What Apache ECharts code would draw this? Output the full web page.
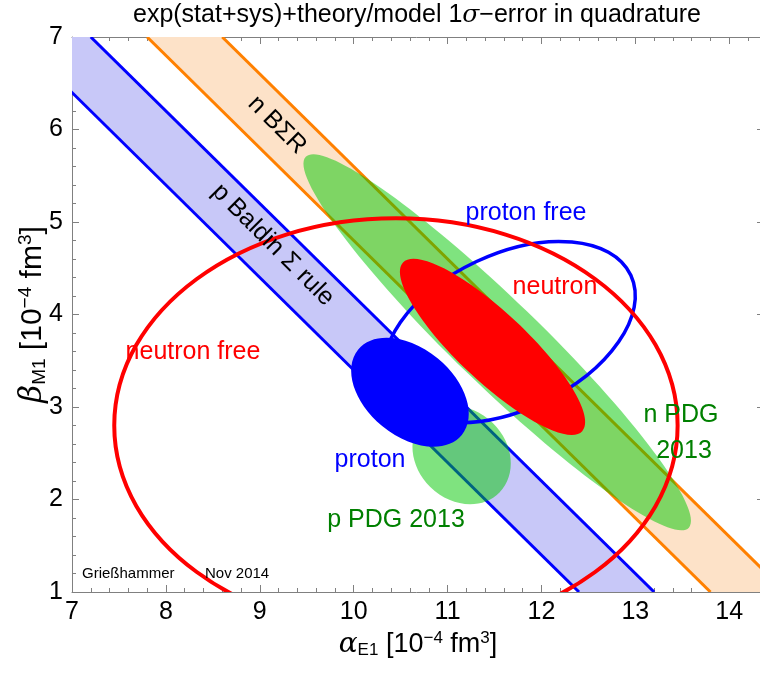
<!DOCTYPE html>
<html><head><meta charset="utf-8">
<script src="https://cdn.jsdelivr.net/npm/echarts@6/dist/echarts.min.js"></script>
<style>html,body{margin:0;padding:0;background:#fff}#c{width:760px;height:677px}</style>
</head><body><div id="c"></div><script>
// ---- data ----
const xRange = [7, 14.37];
const yRange = [1, 7];
// Baldin sum-rule bands: alpha + beta = centre +- err
const bandNames  = ['p Baldin Σ rule', 'n BΣR'];
const bandCentre = [13.8, 15.2];
const bandErr    = [0.4, 0.4];
// 1-sigma ellipses: centre (alpha, beta), semi-major, semi-minor, angle of major axis (deg)
const ellNames = ['n PDG 2013', 'p PDG 2013', 'proton free', 'neutron', 'proton', 'neutron free'];
const ellAlpha = [11.53, 11.15, 11.66, 11.48, 10.60, 10.45];
const ellBeta  = [3.70, 2.48, 3.81, 3.65, 3.16, 2.80];
const ellMajor = [2.86, 0.57, 1.43, 1.32, 0.72, 3.00];
const ellMinor = [0.46, 0.48, 0.84, 0.37, 0.47, 2.24];
const ellAngle = [-44.5, -45, 25.4, -43.7, -40, 0];

// ---- styles ----
const BLUE = '#0000ff', RED = '#ff0000', ORANGE = '#ff8000', DKGREEN = '#008000';
const FONT = 'Liberation Sans, Arial, sans-serif';
const ellStyle = {
  'n PDG 2013':   {fill: 'rgba(0,200,0,0.5)', stroke: null, lw: 0},
  'p PDG 2013':   {fill: 'rgba(0,200,0,0.5)', stroke: null, lw: 0},
  'proton free':  {fill: null, stroke: BLUE, lw: 3.5},
  'neutron':      {fill: RED, stroke: null, lw: 0},
  'proton':       {fill: BLUE, stroke: null, lw: 0},
  'neutron free': {fill: null, stroke: RED, lw: 4}
};
const bandStyle = {
  'p Baldin Σ rule': {fill: '#c8c8f8', stroke: BLUE},
  'n BΣR':           {fill: '#fde2c8', stroke: ORANGE}
};

function bandSeries(i) {
  const nm = bandNames[i], st = bandStyle[nm];
  return {
    type: 'custom', name: nm, clip: true, z: 1,
    data: [[bandCentre[i] - bandErr[i], bandCentre[i] + bandErr[i]]],
    renderItem: function (params, api) {
      const lo = api.value(0), hi = api.value(1);
      const p1 = api.coord([lo - yRange[1], yRange[1]]);
      const p2 = api.coord([hi - yRange[1], yRange[1]]);
      const p3 = api.coord([hi - yRange[0], yRange[0]]);
      const p4 = api.coord([lo - yRange[0], yRange[0]]);
      return {type: 'group', children: [
        {type: 'polygon', shape: {points: [p1, p2, p3, p4]}, style: {fill: st.fill}},
        {type: 'line', shape: {x1: p1[0], y1: p1[1], x2: p4[0], y2: p4[1]}, style: {stroke: st.stroke, lineWidth: 3}},
        {type: 'line', shape: {x1: p2[0], y1: p2[1], x2: p3[0], y2: p3[1]}, style: {stroke: st.stroke, lineWidth: 3}}
      ]};
    }
  };
}

function ellSeries(i, z) {
  const nm = ellNames[i], st = ellStyle[nm];
  return {
    type: 'custom', name: nm, clip: true, z: z,
    data: [[ellAlpha[i], ellBeta[i], ellMajor[i], ellMinor[i], ellAngle[i]]],
    renderItem: function (params, api) {
      const c = api.coord([api.value(0), api.value(1)]);
      const s = api.size([1, 1]);
      const th = api.value(4) * Math.PI / 180;
      const ct = Math.cos(th), sn = Math.sin(th);
      const kx = Math.sqrt((s[0] * ct) ** 2 + (s[1] * sn) ** 2);
      const ky = Math.sqrt((s[0] * sn) ** 2 + (s[1] * ct) ** 2);
      const rot = Math.atan2(s[1] * sn, s[0] * ct);
      return {
        type: 'ellipse', x: c[0], y: c[1], rotation: rot,
        shape: {cx: 0, cy: 0, rx: api.value(2) * kx, ry: api.value(3) * ky},
        style: {fill: st.fill || 'none', stroke: st.stroke || 'none', lineWidth: st.lw}
      };
    }
  };
}

const chart = echarts.init(document.getElementById('c'), null, {renderer: 'canvas'});

const axisCommon = {
  type: 'value', interval: 1,
  axisLine: {show: true, onZero: false, lineStyle: {color: '#808080', width: 1}},
  axisTick: {show: true, inside: true, length: 7, lineStyle: {color: '#808080'}},
  minorTick: {show: true, splitNumber: 5, length: 4, lineStyle: {color: '#808080'}},
  splitLine: {show: false}, minorSplitLine: {show: false}
};
function makeRich(f) {
  return {
    g: {fontSize: Math.round(f * 1.04), fontStyle: 'italic', fontFamily: 'DejaVu Serif', color: '#000'},
    n: {fontSize: f, fontFamily: FONT, color: '#000'},
    s: {fontSize: Math.round(f * 0.62), fontFamily: FONT, color: '#000', padding: [Math.round(f * 0.46), 0, 0, 0]},
    p: {fontSize: Math.round(f * 0.62), fontFamily: FONT, color: '#000', padding: [0, 0, Math.round(f * 0.46), 0]}
  };
}
const lbl = (text, x, y, color, extra) => Object.assign({type: 'text', x: x, y: y, z: 100,
  style: {text: text, fontSize: 25, fontFamily: FONT, fill: color, align: 'center', verticalAlign: 'middle'}}, extra || {});

const option = {
  animation: false,
  grid: {left: 72, top: 37, right: -4, bottom: 85, containLabel: false, outerBoundsMode: 'none'},
  xAxis: [
    Object.assign({}, axisCommon, {
      position: 'bottom', min: xRange[0], max: xRange[1],
      axisLabel: {fontSize: 25, color: '#000', fontFamily: FONT, margin: 8, showMaxLabel: false},
      name: '{g|α}{s|E1}{n| [10}{p|−4}{n| fm}{p|3}{n|]}', nameLocation: 'middle', nameGap: 32,
      nameTextStyle: {rich: makeRich(27)}
    }),
    Object.assign({}, axisCommon, {
      position: 'top', min: xRange[0], max: xRange[1], axisLabel: {show: false}
    })
  ],
  yAxis: [
    Object.assign({}, axisCommon, {
      position: 'left', min: yRange[0], max: yRange[1],
      axisLabel: {fontSize: 25, color: '#000', fontFamily: FONT, margin: 9},
      name: '{g|β}{s|M1}{n| [10}{p|−4}{n| fm}{p|3}{n|]}', nameLocation: 'middle', nameGap: 23,
      nameMoveOverlap: false,
      nameTextStyle: {rich: makeRich(30)}
    }),
    Object.assign({}, axisCommon, {
      position: 'right', min: yRange[0], max: yRange[1], axisLabel: {show: false}
    })
  ],
  series: [
    bandSeries(0), bandSeries(1),
    ellSeries(0, 3), ellSeries(1, 3), ellSeries(2, 4), ellSeries(3, 5), ellSeries(4, 6), ellSeries(5, 7)
  ],
  graphic: [
    {type: 'text', x: 417, y: 15, z: 100,
     style: {text: '{n|exp(stat+sys)+theory/model 1}{g|σ}{n|−error in quadrature}', align: 'center', verticalAlign: 'middle',
       rich: {n: {fontSize: 25, fontFamily: FONT, fill: '#000'}, g: {fontSize: 25, fontStyle: 'italic', fontFamily: 'DejaVu Serif', fill: '#000'}}}},
    lbl(bandNames[1], 277, 125, '#000', {rotation: -Math.PI / 4}),
    lbl(bandNames[0], 273, 245, '#000', {rotation: -Math.PI / 4}),
    lbl('proton free', 526, 213, BLUE),
    lbl('neutron', 555, 287, RED),
    lbl('neutron free', 193, 352, RED),
    lbl('proton', 370, 460, BLUE),
    lbl('p PDG 2013', 396, 520, DKGREEN),
    lbl('n PDG', 681, 415, DKGREEN),
    lbl('2013', 684, 451, DKGREEN),
    {type: 'text', x: 82, y: 574, z: 100, style: {text: 'Grießhammer', fontSize: 15, fontFamily: FONT, fill: '#000', align: 'left', verticalAlign: 'middle'}},
    {type: 'text', x: 205, y: 574, z: 100, style: {text: 'Nov 2014', fontSize: 15, fontFamily: FONT, fill: '#000', align: 'left', verticalAlign: 'middle'}}
  ]
};
chart.setOption(option);
</script></body></html>
